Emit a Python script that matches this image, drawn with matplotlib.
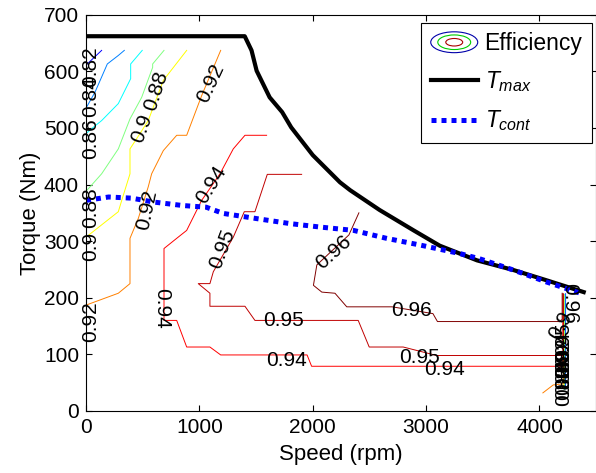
import matplotlib
matplotlib.use("Agg")
import matplotlib.pyplot as plt
from matplotlib.patches import Ellipse
from matplotlib.legend_handler import HandlerBase
from matplotlib.lines import Line2D

plt.rcParams['font.family'] = ['Liberation Sans', 'DejaVu Sans']
plt.rcParams['mathtext.fontset'] = 'custom'
plt.rcParams['mathtext.it'] = 'Liberation Sans:italic'
plt.rcParams['mathtext.rm'] = 'Liberation Sans'

nan = float('nan')

# torque envelopes, speed in rpm / torque in Nm
tmax_speed = [0, 1400, 1460, 1505, 1620, 1730, 1810, 2000, 2240, 2330, 2590, 2890, 3120, 3450, 3770, 4060, 4390]
tmax_torque = [662, 662, 637, 601, 554, 528, 501, 452, 404, 390, 355, 319, 292, 266, 249, 231, 210]

tcont_speed = [0, 200, 400, 600, 850, 1060, 1210, 1500, 1800, 2060, 2360, 2650, 2950, 3300, 3470, 3770, 4060, 4390]
tcont_torque = [372, 378, 376, 369, 363, 360, 349, 340, 331, 325, 319, 305, 293, 278, 269, 249, 228, 206]

# iso-efficiency lines: (speed, torque), nan breaks a line
iso_082 = [(138, 637), (11, 613), (0, 611), (nan, nan), (4230, 42), (4230, 207)]
iso_084 = [(338, 637), (285, 628), (188, 613), (138, 590), (79, 563), (0, 535),
           (nan, nan), (4226, 40), (4226, 206)]
iso_086 = [(496, 637), (394, 613), (394, 587), (285, 543), (138, 513), (64, 501), (0, 490),
           (nan, nan), (4222, 38), (4222, 206)]
iso_088 = [(688, 637), (588, 613), (588, 607), (491, 554), (388, 516), (285, 463), (138, 419), (0, 388),
           (nan, nan), (4218, 38), (4218, 205)]
iso_090 = [(888, 637), (682, 584), (549, 513), (476, 490), (388, 463), (388, 419), (315, 372), (285, 352), (0, 307),
           (nan, nan), (4215, 40), (4215, 205)]
iso_092 = [(1188, 637), (1020, 557), (888, 487), (800, 487), (682, 460), (579, 419), (549, 396), (461, 340),
           (388, 305), (388, 225), (285, 208), (0, 187),
           (nan, nan), (4030, 32), (4121, 46), (4210, 48), (4210, 205)]
iso_094 = [(1593, 487), (1402, 487), (1299, 463), (1182, 419), (1020, 372), (888, 319), (800, 305), (688, 287),
           (688, 160), (800, 160), (888, 113), (1093, 113), (1188, 99), (1950, 99), (1990, 79), (4206, 79), (4206, 207)]
iso_095 = [(1902, 418), (1599, 418), (1490, 352), (1396, 352), (1299, 307), (1123, 246), (1093, 225), (990, 225),
           (1093, 208), (1093, 185), (1402, 185), (1490, 160), (2401, 160), (2498, 113), (2798, 113), (3093, 98),
           (4211, 98), (4211, 207)]
iso_096 = [(2407, 350), (2319, 311), (2036, 258), (2006, 222), (2080, 210), (2196, 208), (2300, 184), (2700, 184),
           (3060, 172), (3100, 158), (4180, 158), (4200, 162), (4200, 208)]

eff_levels = [0.82, 0.84, 0.86, 0.88, 0.90, 0.92, 0.94, 0.95, 0.96]
eff_lines = [iso_082, iso_084, iso_086, iso_088, iso_090, iso_092, iso_094, iso_095, iso_096]
eff_colors = ['#0000ff', '#0080ff', '#00ffff', '#80ff80', '#ffff00', '#ff8000', '#ff0000', '#c00000', '#800000']

# contour labels: text, speed, torque, angle
lab_text = ['0.82', '0.84', '0.86', '0.88', '0.9', '0.92',
            '0.88', '0.9', '0.92', '0.92', '0.94', '0.95', '0.94', '0.96',
            '0.95', '0.94', '0.96', '0.95', '0.94',
            '0.96', '0.9', '0.95', '0.94', '0.92', '0.9', '0.88', '0.86', '0.84', '0.82']
lab_speed = [44, 44, 44, 44, 44, 44,
             617, 494, 1100, 535, 1106, 1203, 668, 2185,
             1740, 1770, 2875, 2945, 3166,
             4265, 4190, 4215, 4215, 4215, 4215, 4215, 4215, 4215, 4215]
lab_torque = [608, 556, 481, 360, 291, 157,
              566, 499, 579, 355, 400, 287, 182, 281,
              159, 90, 178, 95, 73,
              190, 150, 120, 105, 95, 85, 75, 65, 55, 45]
lab_angle = [90, 90, 90, 90, 90, 90,
             72, 70, 65, 78, 58, 69, -90, 42,
             0, 0, 0, 0, 0,
             -90, 60, 90, 90, 90, 90, 90, 90, 90, 90]

ticks_x = [0, 1000, 2000, 3000, 4000]
ticks_y = [0, 100, 200, 300, 400, 500, 600, 700]


class ContourIcon(HandlerBase):
    # little nested-ellipse glyph like MATLAB's contour legend entry
    def create_artists(self, legend, orig_handle, xdescent, ydescent, width, height, fontsize, trans):
        cx = width / 2 - xdescent
        cy = height / 2 - ydescent
        arts = []
        for k, col in [(1.0, '#0000aa'), (0.7, '#00cc00'), (0.36, '#aa0000')]:
            arts.append(Ellipse((cx, cy), width * k, height * 1.3 * k, fill=False,
                                edgecolor=col, lw=0.8, transform=trans))
        return arts


fig = plt.figure(figsize=(5.96, 4.73), dpi=100)
ax = fig.add_axes([0.1443, 0.1311, 0.856, 0.8378])

for pts, col in zip(eff_lines, eff_colors):
    xs = [p[0] for p in pts]
    ys = [p[1] for p in pts]
    ax.plot(xs, ys, color=col, lw=0.7)

for t, x, y, a in zip(lab_text, lab_speed, lab_torque, lab_angle):
    ax.text(x, y, t, rotation=a, ha='center', va='center', fontsize=15,
            rotation_mode='anchor')

tmax_line, = ax.plot(tmax_speed, tmax_torque, color='k', lw=3.0)
tcont_line, = ax.plot(tcont_speed, tcont_torque, color='#0000ff', lw=3.6,
                      linestyle=(0, (1, 1)), dash_capstyle='butt')

eff_proxy = Line2D([], [])
leg = ax.legend([eff_proxy, tmax_line, tcont_line],
                ['Efficiency', '$T_{max}$', '$T_{cont}$'],
                handler_map={eff_proxy: ContourIcon()},
                loc='upper right', bbox_to_anchor=(0.992, 0.980), borderaxespad=0,
                fontsize=16.5, fancybox=False, framealpha=1, edgecolor='k',
                handlelength=2.05, handletextpad=0.3, borderpad=0.42, labelspacing=0.62)
leg.get_frame().set_linewidth(0.8)

ax.set_xlim(0, 4500)
ax.set_ylim(0, 700)
ax.set_xticks(ticks_x)
ax.set_yticks(ticks_y)
ax.tick_params(direction='in', top=True, right=True, length=4, width=0.8,
               labelsize=15, pad=5)
for sp in ax.spines.values():
    sp.set_linewidth(0.8)
ax.set_xlabel('Speed (rpm)', fontsize=16, labelpad=5)
ax.set_ylabel('Torque (Nm)', fontsize=16, labelpad=2)

fig.savefig('out.png', dpi=100)
